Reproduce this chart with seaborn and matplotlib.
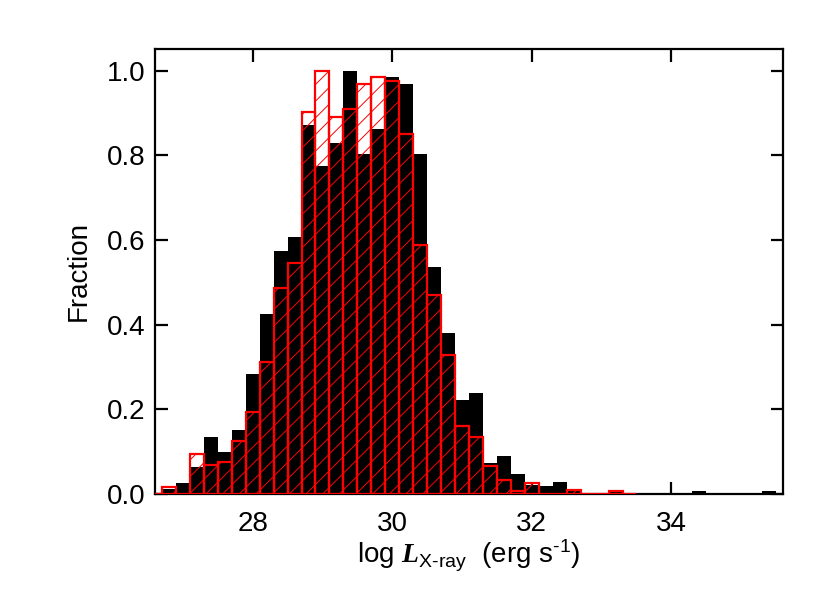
import numpy as np
import pandas as pd
import seaborn as sns
import matplotlib
matplotlib.use("Agg")
import matplotlib.pyplot as plt

# bin grid (width 0.2 dex)
black_edges = np.round(np.arange(26.7, 35.51, 0.2), 2)
red_edges = np.round(np.arange(26.5, 33.51, 0.2), 2)

# fractions, one per bin
black_frac = [0.011, 0.027, 0.063, 0.134, 0.098, 0.151, 0.283, 0.424, 0.573, 0.608,
              0.872, 0.775, 0.828, 1.000, 0.802, 0.863, 0.986, 0.968, 0.802, 0.537,
              0.380, 0.222, 0.239, 0.072, 0.090, 0.046, 0.022, 0.020, 0.028, 0.009,
              0.0, 0.0, 0.005, 0.003, 0.0, 0.0, 0.0, 0.0, 0.008, 0.0,
              0.0, 0.0, 0.0, 0.008]
red_frac = [0.0, 0.017, 0.0, 0.094, 0.068, 0.076, 0.126, 0.193, 0.311, 0.487,
            0.546, 0.901, 1.000, 0.891, 0.909, 0.969, 0.984, 0.976, 0.850, 0.588,
            0.471, 0.328, 0.161, 0.135, 0.066, 0.033, 0.008, 0.025, 0.0, 0.0,
            0.009, 0.0, 0.0, 0.008, 0.0]

x_ticks = [28, 30, 32, 34]
y_ticks = [0.0, 0.2, 0.4, 0.6, 0.8, 1.0]

black_df = pd.DataFrame({'lx': (black_edges[:-1] + black_edges[1:]) / 2, 'frac': black_frac})
red_df = pd.DataFrame({'lx': (red_edges[:-1] + red_edges[1:]) / 2, 'frac': red_frac})

sns.set_style("ticks")
plt.rcParams['font.family'] = ['Liberation Sans', 'DejaVu Sans']
plt.rcParams['text.color'] = 'black'
plt.rcParams['axes.labelcolor'] = 'black'
plt.rcParams['mathtext.fontset'] = 'custom'
plt.rcParams['mathtext.rm'] = 'Liberation Sans'
plt.rcParams['mathtext.it'] = 'Liberation Sans:italic'
plt.rcParams['mathtext.bfit'] = 'Liberation Serif:italic:bold'
plt.rcParams['hatch.linewidth'] = 0.7

fig = plt.figure(figsize=(8.3, 5.93), dpi=100)
ax = fig.add_axes([0.1867, 0.167, 0.7567, 0.7504])

sns.histplot(data=black_df, x='lx', weights='frac', bins=list(black_edges), ax=ax,
             color='black', alpha=1, edgecolor='none', linewidth=0)
sns.histplot(data=red_df, x='lx', weights='frac', bins=list(red_edges), ax=ax,
             color='red', fill=False, hatch='//', linewidth=1.6, zorder=3)

ax.set_xlim(26.6, 35.6)
ax.set_ylim(0, 1.051)
ax.set_xticks(x_ticks)
ax.set_yticks(y_ticks)
ax.set_yticklabels([f"{v:.1f}" for v in y_ticks])

for s in ax.spines.values():
    s.set_linewidth(1.6)
    s.set_color('black')
ax.tick_params(direction='in', length=9, width=1.6, top=True, right=True,
               labelsize=20, colors='black')
ax.tick_params(axis='x', pad=12)
ax.tick_params(axis='y', pad=7)

ax.set_xlabel(r'log $\mathbfit{L}_{\text{X-ray}}$  (erg s$^{\text{-1}}$)', fontsize=20, labelpad=1)
ax.set_ylabel('Fraction', fontsize=20, labelpad=11)

fig.savefig('out.png', dpi=100)
plt.close(fig)
